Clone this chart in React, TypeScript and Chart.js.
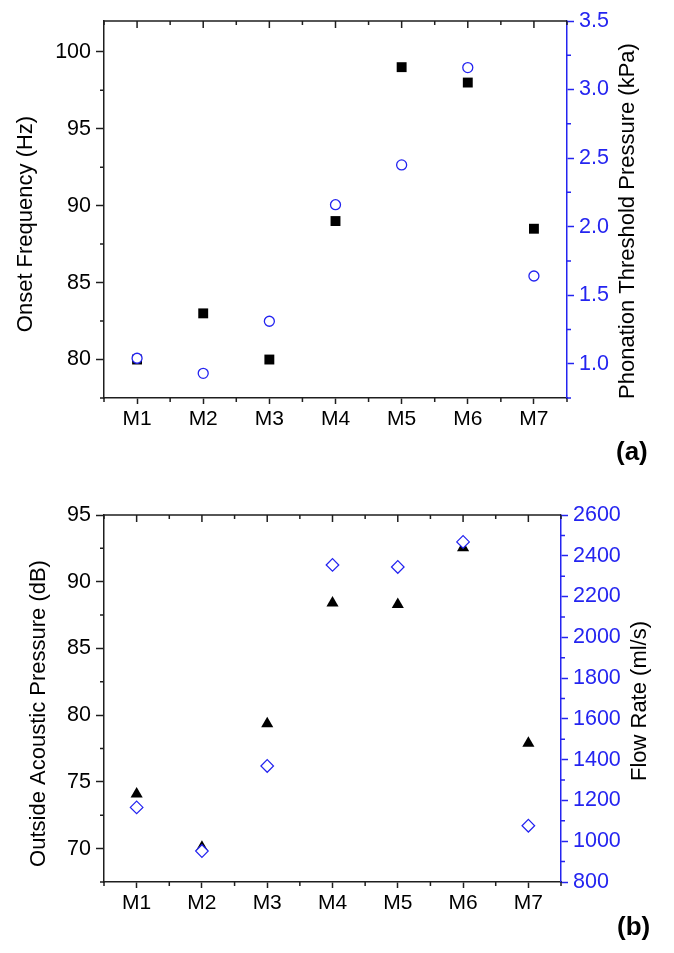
import React, { useEffect, useRef } from 'react';
import { Chart, registerables } from 'chart.js';

Chart.register(...registerables);

// ---------- data ----------
const categories = ['M1', 'M2', 'M3', 'M4', 'M5', 'M6', 'M7'];

// panel (a)
const onsetFrequency = [80.0, 83.0, 80.0, 89.0, 99.0, 98.0, 88.5];
const thresholdPressure = [1.04, 0.93, 1.31, 2.16, 2.45, 3.16, 1.64];
const onsetTicks = [80, 85, 90, 95, 100];
const pressureTicks = [1.0, 1.5, 2.0, 2.5, 3.0, 3.5];

// panel (b)
const acousticPressure = [74.1, 70.1, 79.35, 88.4, 88.3, 92.55, 77.9];
const flowRate = [1166, 952, 1369, 2355, 2345, 2468, 1076];
const acousticTicks = [70, 75, 80, 85, 90, 95];
const flowTicks = [800, 1000, 1200, 1400, 1600, 1800, 2000, 2200, 2400, 2600];

// ---------- style ----------
const FONT = '"Liberation Sans", Arial, Helvetica, sans-serif';
const BLUE = '#2424f0';
const AXIS = '#1e1e1e';
const W = 674;

function minorValues(majors: number[], min: number, max: number) {
  const step = majors[1] - majors[0];
  const out: number[] = [];
  for (let v = majors[0] - step / 2; v <= max + 1e-9; v += step) {
    if (v >= min - 1e-9) out.push(v);
  }
  return out;
}

const frameTicks = {
  id: 'frameTicks',
  afterDraw(chart: any, _args: any, opts: any) {
    const { ctx, chartArea } = chart;
    const { left, right, top, bottom } = chartArea;
    const x = chart.scales.x;
    const yl = chart.scales.yL;
    const yr = chart.scales.yR;
    ctx.save();
    ctx.lineWidth = 1.5;
    ctx.strokeStyle = AXIS;
    ctx.beginPath();
    ctx.moveTo(left, top);
    ctx.lineTo(right, top);
    ctx.stroke();

    const n = x.ticks.length;
    const half = (x.getPixelForTick(1) - x.getPixelForTick(0)) / 2;
    ctx.beginPath();
    for (let i = 0; i < n; i++) {
      const px = x.getPixelForTick(i);
      ctx.moveTo(px, top);
      ctx.lineTo(px, top + 7);
      const mins = [px - half];
      if (i === n - 1) mins.push(px + half);
      for (const m of mins) {
        ctx.moveTo(m, top);
        ctx.lineTo(m, top + 4);
        ctx.moveTo(m, bottom);
        ctx.lineTo(m, bottom + 4);
      }
    }
    ctx.stroke();

    ctx.beginPath();
    for (const v of opts.leftMinor) {
      const py = yl.getPixelForValue(v);
      ctx.moveTo(left, py);
      ctx.lineTo(left - 4, py);
    }
    ctx.stroke();

    ctx.strokeStyle = BLUE;
    ctx.beginPath();
    for (const v of opts.rightMinor) {
      const py = yr.getPixelForValue(v);
      ctx.moveTo(right, py);
      ctx.lineTo(right + 4, py);
    }
    ctx.stroke();

    // axis titles
    ctx.fillStyle = '#000';
    ctx.font = `22px ${FONT}`;
    ctx.textAlign = 'center';
    ctx.textBaseline = 'middle';
    const cy = (top + bottom) / 2;
    for (const t of opts.titles) {
      ctx.save();
      ctx.translate(t.x, cy + t.dy);
      ctx.rotate(-Math.PI / 2);
      ctx.fillText(t.text, 0, 0);
      ctx.restore();
    }
    ctx.restore();
  },
};

interface PanelProps {
  height: number;
  padTop: number;
  plotBottom: number;
  rightWidth: number;
  leftSeries: number[];
  rightSeries: number[];
  leftTicks: number[];
  rightTicks: number[];
  leftRange: [number, number];
  rightRange: [number, number];
  leftStyle: any;
  rightStyle: any;
  rightDecimals: number;
  titles: { text: string; x: number; dy: number }[];
}

function Panel(p: PanelProps) {
  const ref = useRef<HTMLCanvasElement>(null);
  useEffect(() => {
    if (!ref.current) return;
    const chart = new Chart(ref.current, {
      type: 'line',
      data: {
        labels: categories,
        datasets: [
          {
            data: p.rightSeries,
            yAxisID: 'yR',
            showLine: false,
            order: 0,
            ...p.rightStyle,
          },
          {
            data: p.leftSeries,
            yAxisID: 'yL',
            showLine: false,
            order: 1,
            ...p.leftStyle,
          },
        ],
      },
      options: {
        responsive: false,
        maintainAspectRatio: false,
        animation: false,
        events: [],
        layout: { padding: { top: p.padTop, left: 0, right: 0, bottom: 0 } },
        plugins: {
          legend: { display: false },
          tooltip: { enabled: false },
          frameTicks: {
            leftMinor: minorValues(p.leftTicks, p.leftRange[0], p.leftRange[1]),
            rightMinor: minorValues(p.rightTicks, p.rightRange[0], p.rightRange[1]),
            titles: p.titles,
          },
        } as any,
        scales: {
          x: {
            type: 'category',
            offset: true,
            grid: {
              display: true,
              drawOnChartArea: false,
              drawTicks: true,
              tickLength: 6,
              tickColor: AXIS,
              tickWidth: 1.5,
              offset: false,
            },
            border: { display: true, color: AXIS, width: 1.5 },
            ticks: {
              color: '#000',
              font: { family: FONT, size: 21 },
              padding: 3,
              maxRotation: 0,
              autoSkip: false,
            },
            afterFit: (s: any) => {
              s.height = p.height - p.plotBottom;
            },
          },
          yL: {
            type: 'linear',
            position: 'left',
            min: p.leftRange[0],
            max: p.leftRange[1],
            grid: {
              display: true,
              drawOnChartArea: false,
              drawTicks: true,
              tickLength: 8,
              tickColor: AXIS,
              tickWidth: 1.5,
            },
            border: { display: true, color: AXIS, width: 1.5 },
            ticks: {
              color: '#000',
              font: { family: FONT, size: 21.5 },
              padding: 5,
              callback: (v: any) => String(v),
            },
            afterBuildTicks: (s: any) => {
              s.ticks = p.leftTicks.map((v) => ({ value: v }));
            },
            afterFit: (s: any) => {
              s.width = 104;
            },
          },
          yR: {
            type: 'linear',
            position: 'right',
            min: p.rightRange[0],
            max: p.rightRange[1],
            grid: {
              display: true,
              drawOnChartArea: false,
              drawTicks: true,
              tickLength: 7,
              tickColor: BLUE,
              tickWidth: 1.5,
            },
            border: { display: true, color: BLUE, width: 1.5 },
            ticks: {
              color: BLUE,
              font: { family: FONT, size: 21.5 },
              padding: 5,
              callback: (v: any) => Number(v).toFixed(p.rightDecimals),
            },
            afterBuildTicks: (s: any) => {
              s.ticks = p.rightTicks.map((v) => ({ value: v }));
            },
            afterFit: (s: any) => {
              s.width = p.rightWidth;
            },
          },
        },
      } as any,
      plugins: [frameTicks],
    });
    return () => chart.destroy();
  }, []);
  return <canvas ref={ref} width={W} height={p.height} style={{ display: 'block' }} />;
}

const labelStyle: React.CSSProperties = {
  position: 'absolute',
  fontFamily: FONT,
  fontWeight: 'bold',
  fontSize: 26,
  lineHeight: '26px',
  color: '#000',
};

export default function App() {
  return (
    <div style={{ position: 'absolute', left: 0, top: 0, width: W, height: 953, background: '#fff' }}>
      <div style={{ position: 'absolute', left: 0, top: 0 }}>
        <Panel
          height={476}
          padTop={21}
          plotBottom={398}
          rightWidth={107}
          leftSeries={onsetFrequency}
          rightSeries={thresholdPressure}
          leftTicks={onsetTicks}
          rightTicks={pressureTicks}
          leftRange={[77.5, 102]}
          rightRange={[0.75, 3.5]}
          rightDecimals={1}
          leftStyle={{
            pointStyle: 'rect',
            pointRadius: 7,
            pointBackgroundColor: '#000',
            pointBorderColor: '#000',
            pointBorderWidth: 0,
            borderColor: '#000',
            backgroundColor: '#000',
          }}
          rightStyle={{
            pointStyle: 'circle',
            pointRadius: 5,
            pointBackgroundColor: '#fff',
            pointBorderColor: BLUE,
            pointBorderWidth: 1.3,
            borderColor: BLUE,
            backgroundColor: '#fff',
          }}
          titles={[
            { text: 'Onset Frequency (Hz)', x: 26, dy: 14.5 },
            { text: 'Phonation Threshold Pressure (kPa)', x: 628, dy: 11.5 },
          ]}
        />
      </div>
      <div style={{ position: 'absolute', left: 0, top: 476 }}>
        <Panel
          height={477}
          padTop={39}
          plotBottom={406}
          rightWidth={113}
          leftSeries={acousticPressure}
          rightSeries={flowRate}
          leftTicks={acousticTicks}
          rightTicks={flowTicks}
          leftRange={[67.5, 95]}
          rightRange={[800, 2600]}
          rightDecimals={0}
          leftStyle={{
            pointStyle: 'triangle',
            pointRadius: 7,
            pointBackgroundColor: '#000',
            pointBorderColor: '#000',
            pointBorderWidth: 0,
            borderColor: '#000',
            backgroundColor: '#000',
          }}
          rightStyle={{
            pointStyle: 'rectRot',
            pointRadius: 6.3,
            pointBackgroundColor: '#fff',
            pointBorderColor: BLUE,
            pointBorderWidth: 1.2,
            borderColor: BLUE,
            backgroundColor: '#fff',
          }}
          titles={[
            { text: 'Outside Acoustic Pressure (dB)', x: 39, dy: 15 },
            { text: 'Flow Rate (ml/s)', x: 640, dy: 2.5 },
          ]}
        />
      </div>
      <div style={{ ...labelStyle, left: 616, top: 438 }}>(a)</div>
      <div style={{ ...labelStyle, left: 617, top: 913 }}>(b)</div>
    </div>
  );
}
